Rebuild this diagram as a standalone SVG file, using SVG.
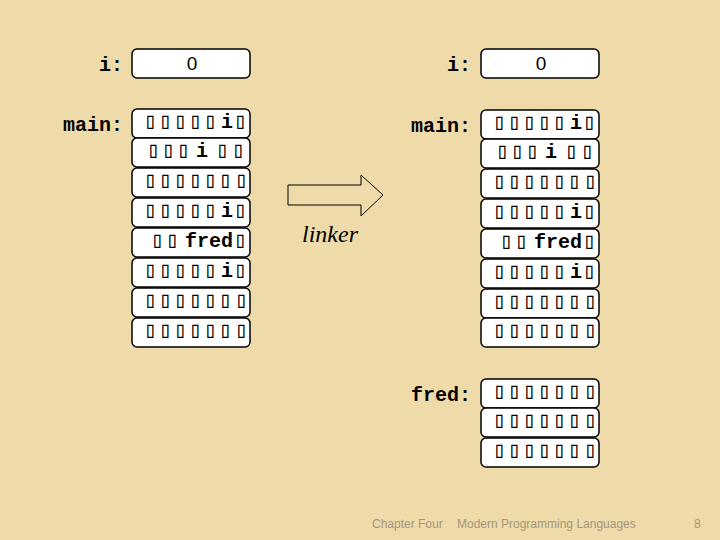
<svg xmlns="http://www.w3.org/2000/svg" width="720" height="540" viewBox="0 0 720 540">
<style>
.bg{fill:#efdba9}
.box{fill:#ffffff;stroke:#000;stroke-width:1.5}
.lbl{font-family:"Liberation Mono","DejaVu Sans Mono",monospace;font-weight:bold;font-size:20px;fill:#000;text-anchor:end}
.cell{font-family:"Liberation Mono","DejaVu Sans Mono",monospace;font-weight:bold;font-size:20px;fill:#000;text-anchor:middle}
.tofu{font-family:"DejaVu Sans Mono",monospace;font-size:22px;fill:#000;text-anchor:middle}
.zero{font-family:"Liberation Sans",Arial,sans-serif;font-size:19px;text-anchor:middle;fill:#000}
.foot{font-family:"Liberation Sans",Arial,sans-serif;font-size:12px;fill:#a3977c}
.arrow{fill:none;stroke:#000;stroke-width:1}
.linker{font-family:"Liberation Serif","Times New Roman",serif;font-style:italic;font-size:24px;fill:#000}
</style>
<defs>
<g id="rowA"><rect class="box" x="132" y="0" width="118" height="29" rx="5"/>
<text class="tofu" x="150 165 180 195 210" y="19">▯▯▯▯▯</text>
<text class="cell" x="227" y="19">i</text>
<text class="tofu" x="240" y="19">▯</text></g>
<g id="rowB"><rect class="box" x="132" y="0" width="118" height="29" rx="5"/>
<text class="tofu" x="153 168 183" y="19">▯▯▯</text>
<text class="cell" x="202" y="19">i</text>
<text class="tofu" x="222 238" y="19">▯▯</text></g>
<g id="rowE"><rect class="box" x="132" y="0" width="118" height="29" rx="5"/>
<text class="tofu" x="150 165 180 195 210 225 241" y="19">▯▯▯▯▯▯▯</text></g>
<g id="rowF"><rect class="box" x="132" y="0" width="118" height="29" rx="5"/>
<text class="tofu" x="157 172" y="19">▯▯</text>
<text class="cell" x="209" y="19">fred</text>
<text class="tofu" x="240" y="19">▯</text></g>
</defs>
<rect class="bg" x="0" y="0" width="720" height="540"/>

<g id="left-i">
<text class="lbl" x="123" y="71">i:</text>
<rect class="box" x="132" y="49" width="118" height="29" rx="5"/>
<text class="zero" x="192" y="70">0</text>
</g>
<g id="left-main">
<text class="lbl" x="123" y="131">main:</text>
<use href="#rowA" y="109"/>
<use href="#rowB" y="138"/>
<use href="#rowE" y="168"/>
<use href="#rowA" y="198"/>
<use href="#rowF" y="228"/>
<use href="#rowA" y="258"/>
<use href="#rowE" y="288"/>
<use href="#rowE" y="318"/>
</g>

<g id="right-i">
<text class="lbl" x="471" y="71">i:</text>
<rect class="box" x="481" y="49" width="118" height="29" rx="5"/>
<text class="zero" x="541" y="70">0</text>
</g>
<g id="right-main">
<text class="lbl" x="471" y="132">main:</text>
<g transform="translate(349,0)">
<use href="#rowA" y="110"/>
<use href="#rowB" y="139"/>
<use href="#rowE" y="169"/>
<use href="#rowA" y="199"/>
<use href="#rowF" y="229"/>
<use href="#rowA" y="259"/>
<use href="#rowE" y="289"/>
<use href="#rowE" y="318"/>
</g>
</g>
<g id="right-fred">
<text class="lbl" x="471" y="401">fred:</text>
<g transform="translate(349,0)">
<use href="#rowE" y="379"/>
<use href="#rowE" y="408"/>
<use href="#rowE" y="438"/>
</g>
</g>

<g id="connectors">
<polygon class="arrow" points="288,185 361,185 361,175 383,195 361,216 361,205 288,205"/>
</g>
<text class="linker" x="302" y="242">linker</text>

<text class="foot" x="372" y="528">Chapter Four</text>
<text class="foot" x="457" y="528">Modern Programming Languages</text>
<text class="foot" x="694" y="528">8</text>
</svg>
